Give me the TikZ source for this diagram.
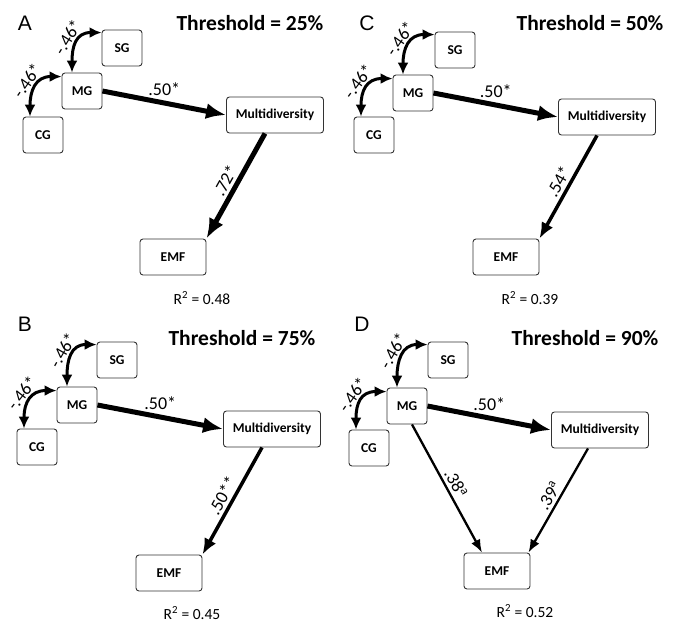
\documentclass[tikz,border=0pt]{standalone}
\usepackage{fontspec}
\setmainfont{Carlito}
\newfontfamily\letterfont{Liberation Sans}
\usetikzlibrary{arrows.meta, positioning}
\tikzset{
  var/.style={rectangle, draw=black!80, rounded corners=3pt, line width=0.9pt, fill=white,
    minimum height=36pt, minimum width=40pt, inner sep=1pt, font=\bfseries\fontsize{13.5}{15}\selectfont},
  wide/.style={var, minimum width=97pt},
  emfbox/.style={var, minimum width=66pt},
  strong/.style={-{Latex[length=20pt,width=16pt]}, line width=5pt},
  medium/.style={-{Latex[length=16pt,width=13pt]}, line width=3.5pt},
  weak/.style={-{Latex[length=13pt,width=10pt]}, line width=2.3pt},
  covar/.style={{Latex[length=12pt,width=11pt]}-{Latex[length=12pt,width=11pt]}, line width=3pt},
  coef/.style={font=\fontsize{18}{20}\selectfont, inner sep=1pt},
  thr/.style={font=\bfseries\fontsize{21.5}{25}\selectfont},
  letter/.style={font=\letterfont\fontsize{21}{24}\selectfont},
  rsq/.style={font=\fontsize{15.5}{18}\selectfont}
}
\begin{document}
\begin{tikzpicture}[x=1pt, y=-1pt]
\useasboundingbox (0,0) rectangle (680,622);

% panel A
\node[letter] (letA) at (25,23) {A};
\node[thr] (thrA) at (250,23) {Threshold = 25\%};
\node[var] (sgA) at (122,48) {SG};
\node[var] (mgA) at (82,91) {MG};
\node[var] (cgA) at (43,135) {CG};
\node[wide] (mdA) at (275,115) {Multidiversity};
\node[emfbox] (emfA) at (173,257) {EMF};
\node[rsq] (rA) at (202,298) {R\textsuperscript{2} = 0.48};
\draw[covar] ([yshift=-3pt]sgA.north west) .. controls +(-26,0) and +(0,-26) .. ([xshift=-10pt]mgA.north)
  node[coef, pos=0.5, sloped, above=2pt] {-.46*};
\draw[covar] ([yshift=-4pt]mgA.north west) .. controls +(-26,0) and +(0,-26) .. ([xshift=-13pt]cgA.north)
  node[coef, pos=0.5, sloped, above=2pt] {-.46*};
\draw[strong] (mgA.east) -- (mdA.west) node[coef, midway, above=4pt] {.50*};
\draw[strong] ([xshift=-10pt]mdA.south) -- (emfA.north east) node[coef, midway, sloped, above=2pt] {.72*};

% panel C
\node[letter] (letC) at (367,23) {C};
\node[thr] (thrC) at (590,23) {Threshold = 50\%};
\node[var] (sgC) at (455,50) {SG};
\node[var] (mgC) at (413,93) {MG};
\node[var] (cgC) at (374,135) {CG};
\node[wide] (mdC) at (607,117) {Multidiversity};
\node[emfbox] (emfC) at (506,257) {EMF};
\node[rsq] (rC) at (530,298) {R\textsuperscript{2} = 0.39};
\draw[covar] ([yshift=-3pt]sgC.north west) .. controls +(-26,0) and +(0,-26) .. ([xshift=-10pt]mgC.north)
  node[coef, pos=0.5, sloped, above=2pt] {-.46*};
\draw[covar] ([yshift=-4pt]mgC.north west) .. controls +(-26,0) and +(0,-26) .. ([xshift=-13pt]cgC.north)
  node[coef, pos=0.5, sloped, above=2pt] {-.46*};
\draw[strong] (mgC.east) -- (mdC.west) node[coef, midway, above=4pt] {.50*};
\draw[medium] ([xshift=-10pt]mdC.south) -- (emfC.north east) node[coef, midway, sloped, above=2pt] {.54*};

% panel B
\node[letter] (letB) at (25,324) {B};
\node[thr] (thrB) at (242,338) {Threshold = 75\%};
\node[var] (sgB) at (117,360) {SG};
\node[var] (mgB) at (77,405) {MG};
\node[var] (cgB) at (37,447) {CG};
\node[wide] (mdB) at (272,429) {Multidiversity};
\node[emfbox] (emfB) at (169,573) {EMF};
\node[rsq] (rB) at (192,613) {R\textsuperscript{2} = 0.45};
\draw[covar] ([yshift=-3pt]sgB.north west) .. controls +(-26,0) and +(0,-26) .. ([xshift=-10pt]mgB.north)
  node[coef, pos=0.5, sloped, above=2pt] {-.46*};
\draw[covar] ([yshift=-4pt]mgB.north west) .. controls +(-26,0) and +(0,-26) .. ([xshift=-13pt]cgB.north)
  node[coef, pos=0.5, sloped, above=2pt] {-.46*};
\draw[strong] (mgB.east) -- (mdB.west) node[coef, midway, above=4pt] {.50*};
\draw[medium] ([xshift=-10pt]mdB.south) -- (emfB.north east) node[coef, midway, sloped, above=2pt] {.50**};

% panel D
\node[letter] (letD) at (362,324) {D};
\node[thr] (thrD) at (585,338) {Threshold = 90\%};
\node[var] (sgD) at (448,360) {SG};
\node[var] (mgD) at (407,406) {MG};
\node[var] (cgD) at (369,448) {CG};
\node[wide] (mdD) at (600,430) {Multidiversity};
\node[emfbox] (emfD) at (497,571) {EMF};
\node[rsq] (rD) at (525,611) {R\textsuperscript{2} = 0.52};
\draw[covar] ([yshift=-3pt]sgD.north west) .. controls +(-26,0) and +(0,-26) .. ([xshift=-10pt]mgD.north)
  node[coef, pos=0.5, sloped, above=2pt] {-.46*};
\draw[covar] ([yshift=-4pt]mgD.north west) .. controls +(-26,0) and +(0,-26) .. ([xshift=-13pt]cgD.north)
  node[coef, pos=0.5, sloped, above=2pt] {-.46*};
\draw[strong] (mgD.east) -- (mdD.west) node[coef, midway, above=4pt] {.50*};
\draw[weak] ([xshift=5pt]mgD.south) -- ([xshift=-15pt]emfD.north) node[coef, midway, sloped, above=2pt] {.38\textsuperscript{a}};
\draw[weak] ([xshift=-12pt]mdD.south) -- ([xshift=-2pt]emfD.north east) node[coef, midway, sloped, above=2pt] {.39\textsuperscript{a}};
\end{tikzpicture}
\end{document}
